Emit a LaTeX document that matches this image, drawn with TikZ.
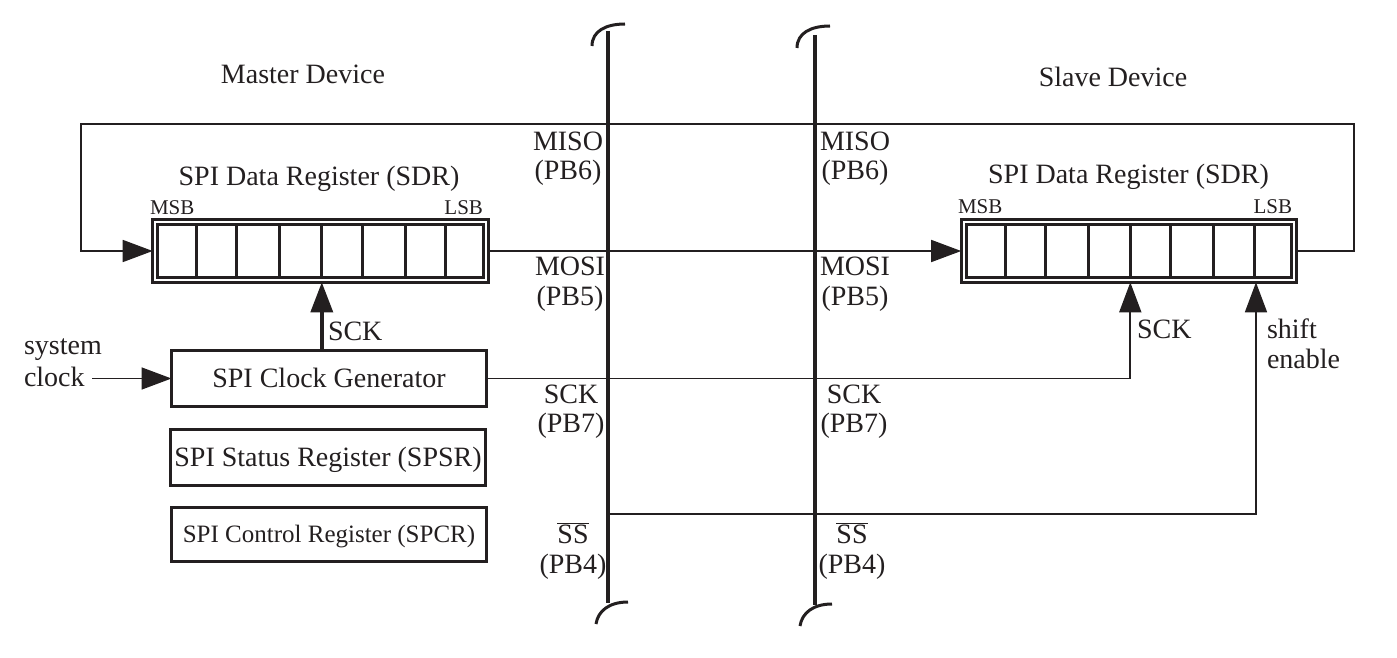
\documentclass[tikz,border=0pt]{standalone}
\usepackage{fontspec}
\setmainfont{Liberation Serif}
\usetikzlibrary{arrows.meta,calc}
\definecolor{ink}{RGB}{35,31,32}
\begin{document}
\begin{tikzpicture}[x=1pt,y=-1pt,
  every node/.style={font=\fontsize{28}{34}\selectfont, text=ink, inner sep=0pt, outer sep=0pt},
  smallfont/.style={font=\fontsize{21}{25}\selectfont},
  wire/.style={draw=ink, line width=1.7pt},
  thickwire/.style={draw=ink, line width=3.5pt},
  busline/.style={draw=ink, line width=3.5pt},
  busarc/.style={draw=ink, line width=3pt},
  tipto/.style={-{Triangle[length=30pt,width=22pt]}},
  regouter/.style={draw=ink, line width=3.3pt, minimum width=335.6pt, minimum height=62.6pt},
  reginner/.style={draw=ink, line width=3.3pt, minimum width=325.6pt, minimum height=52.6pt},
  cell/.style={draw=ink, line width=3pt},
  blockbox/.style={draw=ink, line width=3.3pt, minimum width=315pt, text height=18.5pt, text depth=0pt}
]
\useasboundingbox (0,0) rectangle (1397,658);

% ---- titles
\node[anchor=base] (mtitle) at (303,84) {Master Device};
\node[anchor=base] (stitle) at (1113,86.5) {Slave Device};

% ---- shift registers
\node[regouter] (mreg) at (320.5,251) {};
\node[reginner] (mregin) at (mreg.center) {};
\node[regouter] (sreg) at (1129,251) {};
\node[reginner] (sregin) at (sreg.center) {};
\foreach \f in {0.12,0.243,0.375,0.504,0.628,0.761,0.885}{
  \draw[cell] ($(mregin.north west)!\f!(mregin.north east)$) -- ($(mregin.south west)!\f!(mregin.south east)$);
  \draw[cell] ($(sregin.north west)!\f!(sregin.north east)$) -- ($(sregin.south west)!\f!(sregin.south east)$);
}
\coordinate (mtap) at ($(mregin.south west)!0.504!(mregin.south east)$);
\coordinate (stapA) at ($(sregin.south west)!0.504!(sregin.south east)$);
\coordinate (stapB) at ($(sregin.south west)!0.89!(sregin.south east)$);

\node[anchor=base] (mregt) at (319,185) {SPI Data Register (SDR)};
\node[anchor=base] (sregt) at (1128.5,183) {SPI Data Register (SDR)};
\node[smallfont, anchor=base west] (mmsb) at (150,214) {MSB};
\node[smallfont, anchor=base east] (mlsb) at (483,214) {LSB};
\node[smallfont, anchor=base west] (smsb) at (958,213) {MSB};
\node[smallfont, anchor=base east] (slsb) at (1292,213) {LSB};

% ---- master blocks
\node[blockbox, minimum height=56pt] (cg) at (329,378.5) {SPI Clock Generator};
\node[blockbox, minimum height=56pt] (spsr) at (328,457.5) {SPI Status Register (SPSR)};
\node[blockbox, minimum height=54pt, font=\fontsize{25}{30}\selectfont, text height=16.5pt] (spcr) at (329,534.5) {SPI Control Register (SPCR)};

\node[anchor=base west] (sys1) at (24,354) {system};
\node[anchor=base west] (sys2) at (24,386) {clock};
\coordinate (sysclk) at (92,378.5);
\draw[wire,tipto] (sysclk) -- (cg.west);

% ---- bus lines
\draw[busline] (608,31) -- (608,603);
\draw[busarc] (592,46) .. controls (592,31) and (606,24) .. (625,24);
\draw[busarc] (596,624) .. controls (598,611) and (609,602) .. (628,602);
\draw[busline] (815,35) -- (815,605);
\draw[busarc] (797,48) .. controls (797,33) and (811,26) .. (830,26);
\draw[busarc] (800,626) .. controls (802,613) and (813,604) .. (832,604);

% ---- connectors
\coordinate (fbR) at (1354,124);
\coordinate (fbL) at (81,124);
\draw[wire,tipto] (sreg.east) -| (fbR) -- (fbL) |- (mreg.west);
\draw[wire,tipto] (mreg.east) -- (sreg.west);
\draw[thickwire,tipto] (cg.north -| mtap) -- (mtap |- mreg.south);
\draw[wire,tipto] (cg.east) -| (stapA |- sreg.south);
\coordinate (ssL) at (608,514);
\draw[wire,tipto] (ssL) -| (stapB |- sreg.south);

\node[anchor=base west] (msck) at (328,340) {SCK};
\node[anchor=base west] (ssck) at (1137,338) {SCK};
\node[anchor=base west] (sh1) at (1267,338) {shift};
\node[anchor=base west] (sh2) at (1267,368) {enable};

% ---- bus labels (master side)
\node[anchor=base] (l1a) at (568,150) {MISO};
\node[anchor=base] (l1b) at (568,179) {(PB6)};
\node[anchor=base] (l2a) at (570,275) {MOSI};
\node[anchor=base] (l2b) at (570,305) {(PB5)};
\node[anchor=base] (l3a) at (571,403) {SCK};
\node[anchor=base] (l3b) at (571,432) {(PB7)};
\node[anchor=base] (l4a) at (573,543) {$\overline{\mbox{SS}}$};
\node[anchor=base] (l4b) at (573,573) {(PB4)};
% ---- bus labels (slave side)
\node[anchor=base] (r1a) at (855,150) {MISO};
\node[anchor=base] (r1b) at (855,179) {(PB6)};
\node[anchor=base] (r2a) at (855,275) {MOSI};
\node[anchor=base] (r2b) at (855,305) {(PB5)};
\node[anchor=base] (r3a) at (854,403) {SCK};
\node[anchor=base] (r3b) at (854,432) {(PB7)};
\node[anchor=base] (r4a) at (852,543) {$\overline{\mbox{SS}}$};
\node[anchor=base] (r4b) at (852,573) {(PB4)};
\end{tikzpicture}
\end{document}
